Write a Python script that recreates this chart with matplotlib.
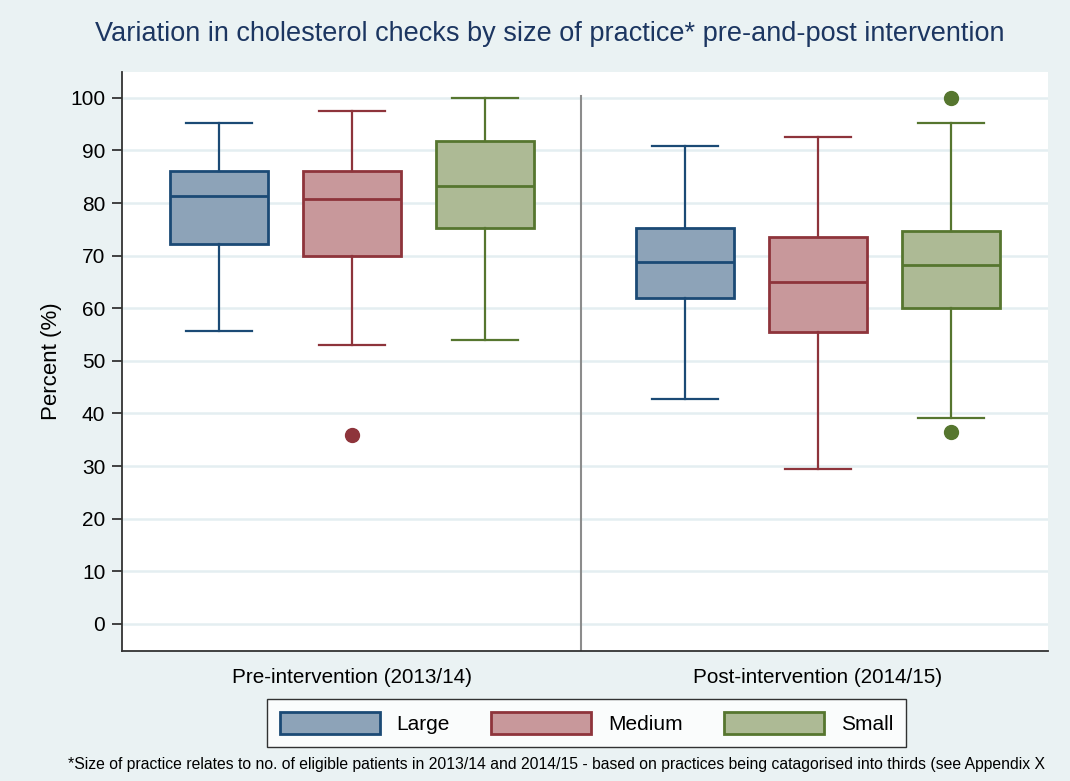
import matplotlib
matplotlib.use('Agg')
import matplotlib.pyplot as plt
from matplotlib.patches import Patch

plt.rcParams['font.family'] = ['Liberation Sans', 'DejaVu Sans']

# box statistics (percent)
groups   = ['Pre-intervention (2013/14)', 'Post-intervention (2014/15)']
sizes    = ['Large', 'Medium', 'Small']
whislo   = [55.6, 53.0, 53.9, 42.7, 29.5, 39.2]
q1       = [72.2, 70.0, 75.2, 62.0, 55.5, 60.1]
med      = [81.4, 80.7, 83.3, 68.7, 65.0, 68.2]
q3       = [86.0, 86.0, 91.7, 75.3, 73.5, 74.6]
whishi   = [95.2, 97.5, 100.0, 90.9, 92.5, 95.2]
outliers = [[], [35.9], [], [], [], [100.0, 36.4]]

fills  = ['#8DA3B8', '#C8989B', '#ADBA95']
edges  = ['#1B4A75', '#8E343B', '#56762F']
bg     = '#EAF2F3'

positions = [1, 2, 3, 4.5, 5.5, 6.5]

fig = plt.figure(figsize=(10.7, 7.81), dpi=100, facecolor=bg)
ax = fig.add_axes([0.114, 0.1665, 0.8654, 0.7413])
ax.set_facecolor('white')

for i in range(6):
    c = i % 3
    st = [dict(whislo=whislo[i], q1=q1[i], med=med[i], q3=q3[i], whishi=whishi[i], fliers=outliers[i])]
    ax.bxp(st, positions=[positions[i]], widths=0.737, capwidths=0.5, patch_artist=True,
           boxprops=dict(facecolor=fills[c], edgecolor=edges[c], linewidth=2.0),
           medianprops=dict(color=edges[c], linewidth=2.0),
           whiskerprops=dict(color=edges[c], linewidth=1.6),
           capprops=dict(color=edges[c], linewidth=1.6),
           flierprops=dict(marker='o', markerfacecolor=edges[c], markeredgecolor=edges[c], markersize=10),
           manage_ticks=False, zorder=3)

ax.axvline(3.72, ymin=0.0, ymax=(100.3 + 5.13) / 110.0, color='#8C8C8C', linewidth=1.5, zorder=2)

ax.set_xlim(0.271, 7.229)
ax.set_ylim(-5.13, 104.9)
ax.set_yticks(range(0, 101, 10))
ax.yaxis.grid(True, color='#E4EEF1', linewidth=1.8, zorder=0)
ax.set_axisbelow(True)
ax.set_xticks([2, 5.5])
ax.set_xticklabels(groups)
ax.tick_params(axis='x', length=0, pad=12, labelsize=14.9)
ax.tick_params(axis='y', direction='out', length=7, width=1.3, color='#333333', labelsize=15, pad=5)
for s in ['top', 'right']:
    ax.spines[s].set_visible(False)
for s in ['left', 'bottom']:
    ax.spines[s].set_color('#333333')
    ax.spines[s].set_linewidth(1.3)
ax.set_ylabel('Percent (%)', fontsize=16, labelpad=6)

fig.text(0.514, 0.957, 'Variation in cholesterol checks by size of practice* pre-and-post intervention',
         ha='center', va='center', fontsize=19.5, color='#1C3661')

handles = [Patch(facecolor=fills[k], edgecolor=edges[k], linewidth=2.0) for k in range(3)]
leg = fig.legend(handles, sizes, loc='center', bbox_to_anchor=(0.548, 0.0744), ncol=3,
                 fontsize=15, frameon=True, fancybox=False, edgecolor='black',
                 handlelength=4.8, handleheight=1.3, handletextpad=0.8, columnspacing=2.0,
                 borderpad=0.6)
leg.get_frame().set_linewidth(1.0)
leg.get_frame().set_facecolor('white')

fig.text(0.0636, 0.012, '*Size of practice relates to no. of eligible patients in 2013/14 and 2014/15 - '
         'based on practices being catagorised into thirds (see Appendix X',
         ha='left', va='bottom', fontsize=11.3, color='black')

fig.savefig('out.png', dpi=100, facecolor=bg)
